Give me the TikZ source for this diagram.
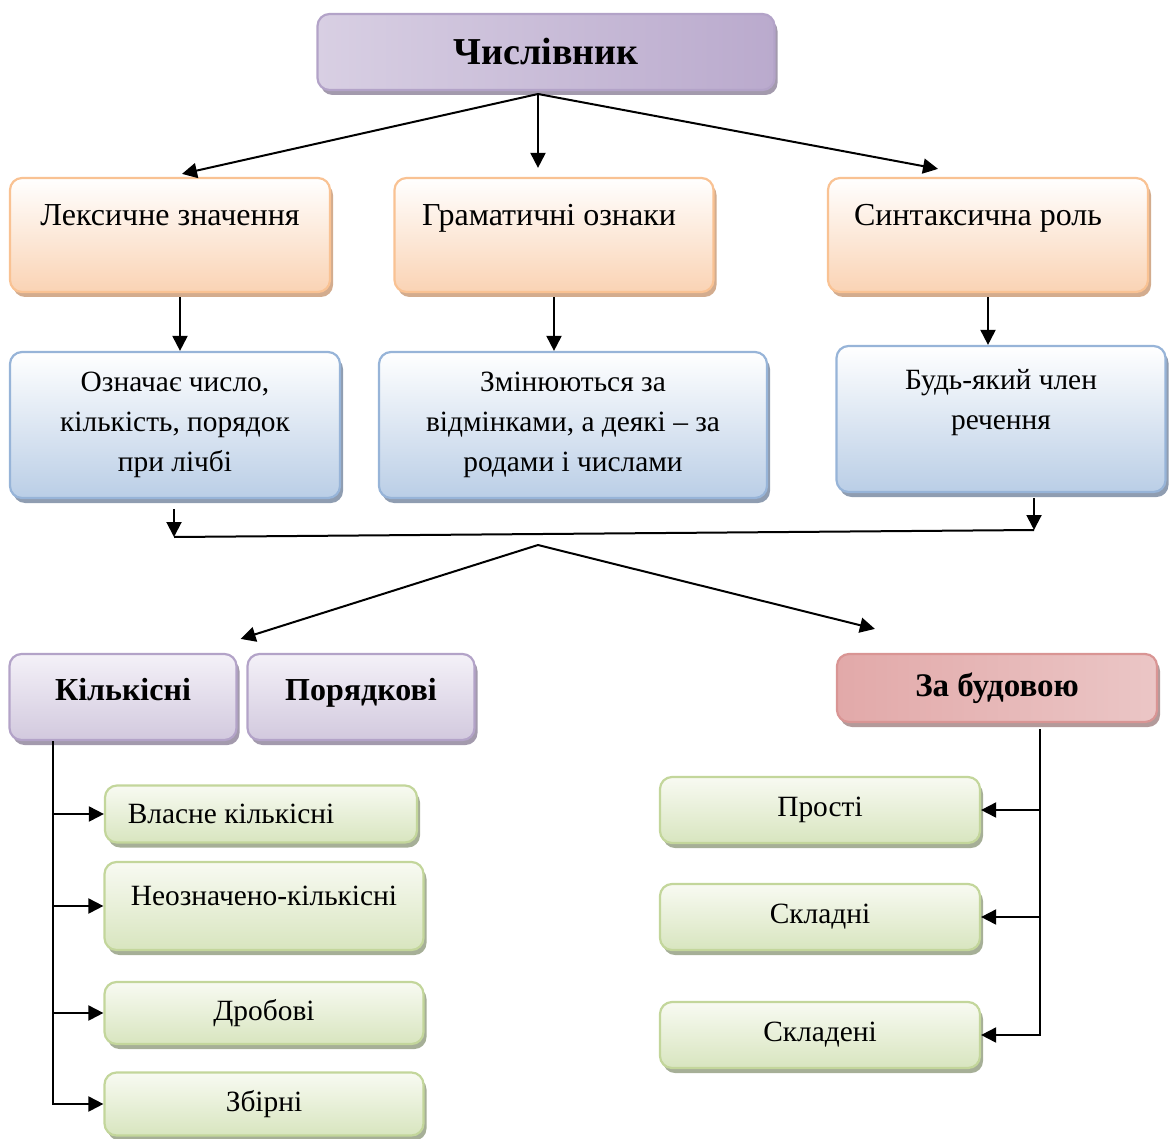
\documentclass[tikz,border=0pt]{standalone}
\usepackage{fontspec}
\setmainfont{Liberation Serif}
\usetikzlibrary{arrows.meta,shadows,calc}

\definecolor{numA}{HTML}{D8CFE3}
\definecolor{numB}{HTML}{EEEAF4}
\definecolor{numC}{HTML}{BAAACD}
\definecolor{lilacTop}{HTML}{F4F1F8}
\definecolor{lilacBot}{HTML}{D2C9DE}
\definecolor{lilacLine}{HTML}{B3A3C8}
\definecolor{lilacShade}{HTML}{A39AAD}
\definecolor{orangeBot}{HTML}{FAD3B4}
\definecolor{orangeLine}{HTML}{F9C293}
\definecolor{orangeShade}{HTML}{D3AC8E}
\definecolor{blueBot}{HTML}{BACEE6}
\definecolor{blueLine}{HTML}{97B4D8}
\definecolor{blueShade}{HTML}{8F9DB1}
\definecolor{redA}{HTML}{E2A9A9}
\definecolor{redB}{HTML}{F6E7E7}
\definecolor{redC}{HTML}{EBC6C6}
\definecolor{redLine}{HTML}{D99594}
\definecolor{redShade}{HTML}{B39A9A}
\definecolor{greenTop}{HTML}{F8FAF2}
\definecolor{greenBot}{HTML}{D8E5BF}
\definecolor{greenLine}{HTML}{C3D69B}
\definecolor{greenShade}{HTML}{A6AF97}

\tikzset{
  box/.style={draw, rounded corners=6pt, line width=1.1pt, inner sep=0pt,
    align=center, font=\fontsize{14.7}{20}\selectfont,
    drop shadow={shadow xshift=1.5pt, shadow yshift=-2.5pt, opacity=1, fill=#1}},
  topbox/.style={box=lilacShade, draw=lilacLine, left color=numA, middle color=numB, right color=numC},
  lilacbox/.style={box=lilacShade, draw=lilacLine, top color=lilacTop, bottom color=lilacBot},
  orangebox/.style={box=orangeShade, draw=orangeLine, top color=white, bottom color=orangeBot,
    font=\fontsize{16}{20}\selectfont},
  bluebox/.style={box=blueShade, draw=blueLine, top color=white, bottom color=blueBot},
  redbox/.style={box=redShade, draw=redLine, left color=redA, middle color=redB, right color=redC},
  greenbox/.style={box=greenShade, draw=greenLine, top color=greenTop, bottom color=greenBot}
}

\begin{document}
\begin{tikzpicture}[x=0.5pt, y=-0.5pt, line width=1pt, >={Triangle[length=7.5pt,width=7.5pt]}]

\useasboundingbox (0,0) rectangle (1170,1138);

% top box
\node[topbox, minimum width=228.5pt, minimum height=38pt,
  font=\fontsize{19}{22}\selectfont\bfseries] (num) at (546,52) {Числівник};

% features
\node[orangebox, minimum width=160pt, text height=24pt, text depth=33pt] (lex) at (170,235) {Лексичне значення};
\node[orangebox, minimum width=159.5pt, text height=24pt, text depth=33pt] (gram) at (554,235) {Граматичні ознаки\hspace*{5pt}};
\node[orangebox, minimum width=160pt, text height=24pt, text depth=33pt] (synt) at (988,235) {Синтаксична роль\hspace*{10pt}};

% explanations
\node[bluebox, minimum width=165pt, minimum height=73pt] (bmean) at (175,425)
  {Означає число,\\кількість, порядок\\при лічбі};
\node[bluebox, minimum width=194pt, minimum height=73pt] (bgram) at (573,425)
  {Змінюються за\\відмінками, а деякі – за\\родами і числами};
\node[bluebox, minimum width=164.5pt, minimum height=73pt] (bsynt) at (1001,419)
  {Будь-який член\\речення\\\mbox{}};

% groups
\node[lilacbox, minimum width=113.5pt, text height=23pt, text depth=20pt,
  font=\fontsize{16}{20}\selectfont\bfseries] (kil) at (123,697) {Кількісні};
\node[lilacbox, minimum width=113.5pt, text height=23pt, text depth=20pt,
  font=\fontsize{16}{20}\selectfont\bfseries] (por) at (361,697) {Порядкові};
\node[redbox, minimum width=160pt, minimum height=34pt,
  font=\fontsize{16.5}{20}\selectfont\bfseries] (bud) at (997,688) {За будовою};

% cardinal kinds
\node[greenbox, minimum width=156pt, minimum height=28.5pt] (g1) at (261,814) {Власне кількісні\hspace*{30pt}};
\node[greenbox, minimum width=159.5pt, text height=21.5pt, text depth=22.5pt] (g2) at (264,906) {Неозначено-кількісні};
\node[greenbox, minimum width=159.5pt, minimum height=31pt] (g3) at (264,1013) {Дробові};
\node[greenbox, minimum width=159.5pt, minimum height=31.5pt] (g4) at (264,1104) {Збірні};

% structure kinds
\node[greenbox, minimum width=160pt, minimum height=33pt] (r1) at (820,810) {Прості};
\node[greenbox, minimum width=160pt, minimum height=33pt] (r2) at (820,917) {Складні};
\node[greenbox, minimum width=160pt, minimum height=33pt] (r3) at (820,1035) {Складені};

% from the top box
\coordinate (hub) at (538,94);
\draw[->] (hub) -- ($(lex.north)+(12,-3)$);
\draw[->] (hub) -- ($(hub |- gram.north)+(0,-9)$);
\draw[->] (hub) -- ($(synt.north)+(-50,-8)$);

% down to the explanations
\draw[->, shorten <=2pt] ($(lex.south)+(10,0)$) -- ($(lex.south |- bmean.north)+(10,0)$);
\draw[->, shorten <=2pt] (gram.south) -- (gram.south |- bgram.north);
\draw[->, shorten <=2pt] (synt.south) -- (synt.south |- bsynt.north);

% gathering line
\coordinate (j1) at (174,537);
\coordinate (j2) at (1034,530);
\draw[->, shorten <=5pt] (bmean.south -| j1) -- (j1);
\draw[->, shorten <=2.5pt] (bsynt.south -| j2) -- (j2);
\draw (j1) -- (j2);

% down to the groups
\coordinate (hub2) at (538,545);
\draw[->] (hub2) -- ($(kil.north east)+(3,-14)$);
\draw[->] (hub2) -- ($(bud.north west)+(39,-24)$);

% cardinal numerals
\coordinate (kx) at ($(kil.south west)+(45,0)$);
\draw[->] (kx) |- (g4.west);
\foreach \g in {g1,g2,g3}
  \draw[->] (kx |- \g.west) -- (\g.west);

% by structure
\coordinate (bx) at ($(bud.south)+(43,6)$);
\draw[->] (bx) |- (r3.east);
\foreach \r in {r1,r2}
  \draw[->] (bx |- \r.east) -- (\r.east);

\end{tikzpicture}
\end{document}
